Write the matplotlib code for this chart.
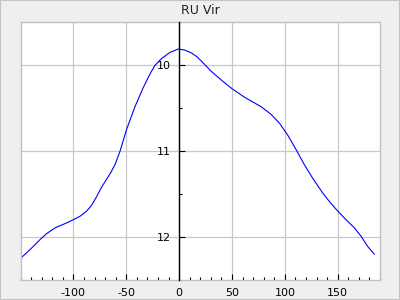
import matplotlib
matplotlib.use("Agg")
import matplotlib.pyplot as plt
from matplotlib.ticker import MultipleLocator, FixedLocator
from matplotlib.patches import Rectangle

phase = [-150, -140.8, -131.4, -125.1, -117.3, -107.8, -100, -93.7, -87.4, -82.6, -77.9,
         -73.2, -69, -64.5, -60.6, -56, -49.6, -41.8, -34, -27.6, -22.9, -16.6, -8.8, -0.9,
         5, 11.7, 17, 21.1, 30.6, 40, 50, 62, 77.7, 87.2, 94.9, 102.8, 110.8, 118.6, 126.4,
         135.8, 142.2, 150, 157.9, 165.8, 172, 178.3, 184.6]
mag = [12.25, 12.145, 12.03, 11.96, 11.895, 11.845, 11.80, 11.76, 11.70, 11.63, 11.53,
       11.42, 11.34, 11.25, 11.16, 11.01, 10.75, 10.49, 10.27, 10.11, 10.01, 9.93, 9.86, 9.82,
       9.83, 9.865, 9.91, 9.96, 10.08, 10.18, 10.28, 10.38, 10.49, 10.58, 10.68, 10.82, 10.99, 11.165, 11.32,
       11.49, 11.59, 11.70, 11.80, 11.895, 11.99, 12.11, 12.20]
title = "RU Vir"
x_ticks = [-100, -50, 0, 50, 100, 150]
y_ticks = [10, 11, 12]
x_limits = (-150, 190)
y_limits = (12.5, 9.5)

fig = plt.figure(figsize=(4, 3), dpi=100, facecolor="#efefef")
fig.patches.append(Rectangle((0, 0), 1, 1, transform=fig.transFigure, fill=False,
                             edgecolor="#c4c4c4", linewidth=1.5))
ax = fig.add_axes([20.5/400, 20/300, 359.5/400, 258.5/300])
ax.set_facecolor("white")
ax.plot(phase, mag, color="#0000ff", linewidth=0.8, solid_joinstyle="round")
ax.set_xlim(*x_limits)
ax.set_ylim(*y_limits)

ax.xaxis.set_major_locator(FixedLocator(x_ticks))
ax.xaxis.set_minor_locator(MultipleLocator(10))
ax.yaxis.set_major_locator(FixedLocator(y_ticks))
ax.yaxis.set_minor_locator(MultipleLocator(0.5))
ax.grid(True, which="major", color="#c8c8c8", linewidth=0.9)
ax.set_axisbelow(True)

for s in ["top", "right", "bottom"]:
    ax.spines[s].set_color("#c0c0c0")
    ax.spines[s].set_linewidth(1.0)
ax.spines["left"].set_position(("data", 0))
ax.spines["left"].set_color("black")
ax.spines["left"].set_linewidth(1.0)
ax.spines["left"].set_zorder(3)
ax.plot([0, 0], [0, 1], transform=ax.transAxes, color="#c0c0c0", linewidth=1.0, clip_on=False)

ax.tick_params(axis="x", which="major", direction="in", length=4, width=0.8, pad=6, labelsize=8)
ax.tick_params(axis="x", which="minor", direction="in", length=2.2, width=0.8)
ax.tick_params(axis="y", which="major", direction="in", length=4, width=0.8, pad=6, labelsize=8)
ax.tick_params(axis="y", which="minor", direction="in", length=2.2, width=0.8)
ax.xaxis.set_major_formatter(plt.FuncFormatter(lambda v, p: f"{int(v)}"))
ax.yaxis.set_major_formatter(plt.FuncFormatter(lambda v, p: f"{int(v)}"))

fig.text(0.5, 1 - 11/300, title, ha="center", va="center", fontsize=9, color="#222222")
fig.savefig("out.png", dpi=100, facecolor=fig.get_facecolor())
